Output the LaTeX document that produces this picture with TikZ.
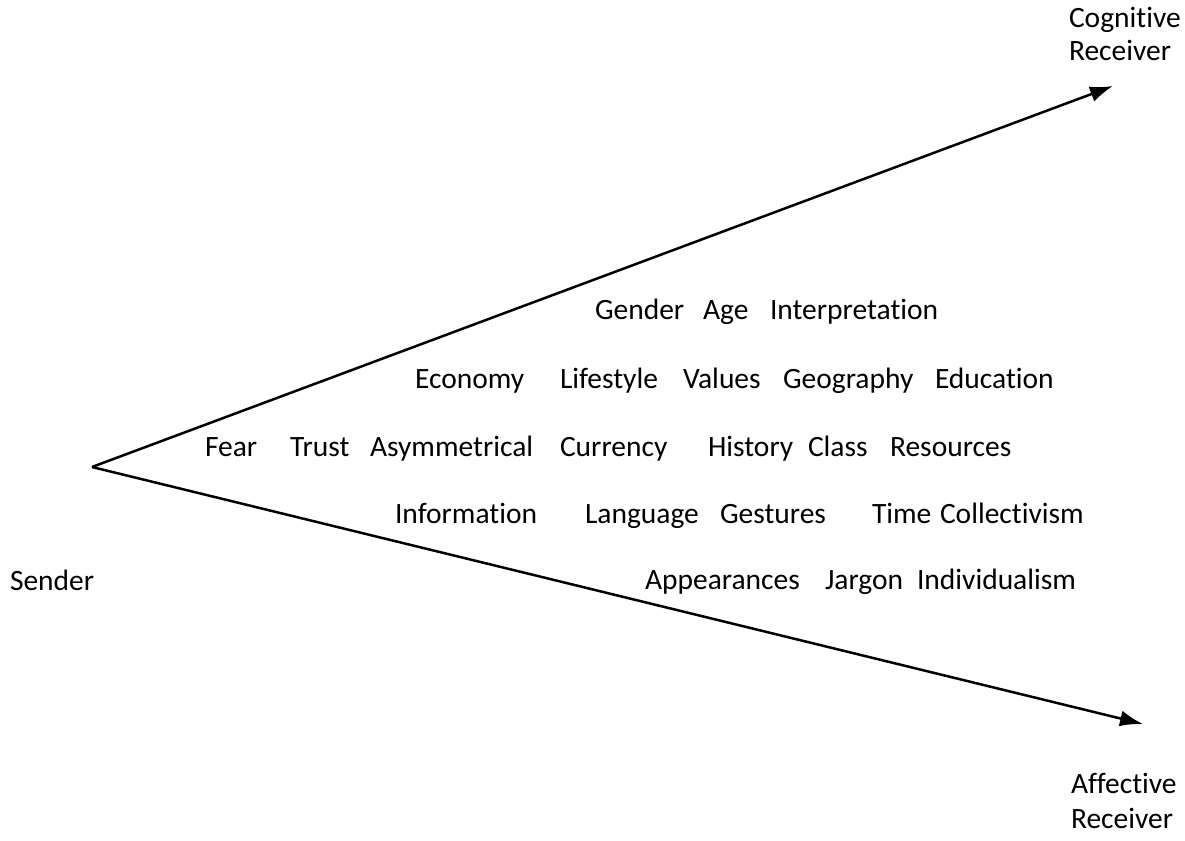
\documentclass[tikz,border=0pt]{standalone}
\usepackage{fontspec}
\setmainfont{Carlito}[Ligatures=NoCommon]
\usetikzlibrary{arrows.meta}
\begin{document}
\begin{tikzpicture}[x=1pt,y=-1pt,
  word/.style={anchor=base west,inner sep=0pt,outer sep=0pt,font=\fontsize{29.5}{36}\selectfont},
  channel/.style={line width=2.5pt,-{Latex[length=23pt,width=16pt]}}]
\useasboundingbox (0,0) rectangle (1185,840);

% end points of the two channels
\coordinate (apex) at (92,467);
\coordinate (cogtip) at (1113,86);
\coordinate (afftip) at (1143,724);

\draw[channel] (apex) -- (cogtip);
\draw[channel] (apex) -- (afftip);

% receivers and sender
\node[word] (cog1) at (1069,28) {Cognitive};
\node[word] (cog2) at (1069,61) {Receiver};
\node[word] (aff1) at (1071,793) {Affective};
\node[word] (aff2) at (1071,828) {Receiver};
\node[word] (sender) at (10,590) {Sender};

% row 1
\node[word] (gender) at (595,319) {Gender};
\node[word] (age) at (703,319) {Age};
\node[word] (interp) at (770,319) {Interpretation};
% row 2
\node[word] (economy) at (415,388) {Economy};
\node[word] (lifestyle) at (560,388) {Lifestyle};
\node[word] (values) at (683,388) {Values};
\node[word] (geography) at (783,388) {Geography};
\node[word] (education) at (935,388) {Education};
% row 3
\node[word] (fear) at (205,456) {Fear};
\node[word] (trust) at (290,456) {Trust};
\node[word] (asym) at (370,456) {Asymmetrical};
\node[word] (currency) at (560,456) {Currency};
\node[word] (history) at (708,456) {History};
\node[word] (class) at (808,456) {Class};
\node[word] (resources) at (890,456) {Resources};
% row 4
\node[word] (information) at (395,523) {Information};
\node[word] (language) at (585,523) {Language};
\node[word] (gestures) at (720,523) {Gestures};
\node[word] (time) at (872,523) {Time};
\node[word] (collect) at (940,523) {Collectivism};
% row 5
\node[word] (appear) at (645,589) {Appearances};
\node[word] (jargon) at (825,589) {Jargon};
\node[word] (individ) at (917,589) {Individualism};
\end{tikzpicture}
\end{document}
